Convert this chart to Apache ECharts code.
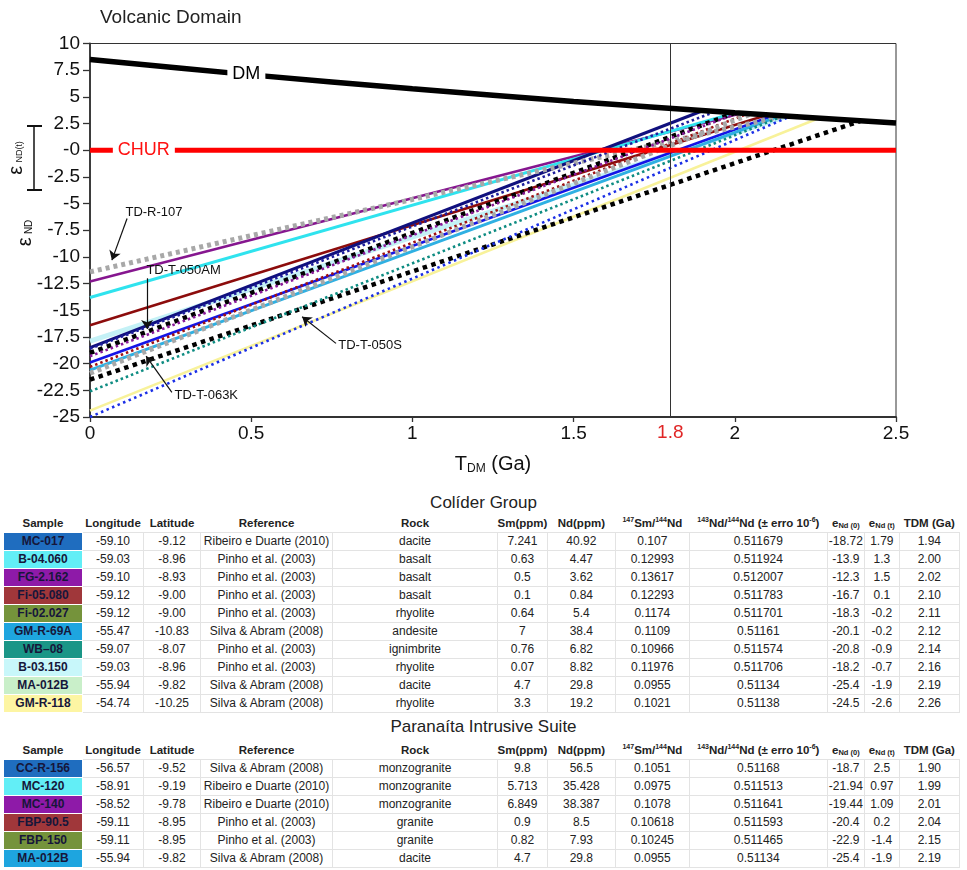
<!DOCTYPE html>
<html><head><meta charset="utf-8">
<script src="https://cdn.jsdelivr.net/npm/echarts@6/dist/echarts.min.js"></script>
<style>
html,body{margin:0;padding:0;background:#fff;width:967px;height:870px;overflow:hidden;font-family:"Liberation Sans",Arial,sans-serif;}
#chart{position:absolute;left:0;top:0;width:967px;height:480px;}
.ttl{position:absolute;left:0;width:967px;text-align:center;font-size:17px;color:#222;line-height:20px;}
table{position:absolute;left:3px;border-collapse:collapse;table-layout:fixed;font-size:12px;color:#222;}
td,th{padding:0;text-align:center;white-space:nowrap;height:17px;line-height:17px;overflow:visible;}
th{font-weight:bold;font-size:11.5px;border:none;}
td{border:1px solid #e3e3e3;}
td.s{border:1px solid #fff;font-weight:bold;color:#16163a;}
sup{font-size:7px;vertical-align:5px;line-height:0;}
sub{font-size:7.5px;vertical-align:-1px;line-height:0;}
</style></head>
<body>
<div id="chart"></div>
<div class="ttl" style="top:493px">Colíder Group</div>
<table id="t1" style="top:515px"></table>
<div class="ttl" style="top:717px">Paranaíta Intrusive Suite</div>
<table id="t2" style="top:742px"></table>
<script>
// ---------- chart data ----------
const xTicks = [0, 0.5, 1, 1.5, 2, 2.5];
const yTickMin = -25, yTickMax = 10, yTickStep = 2.5;
const dmT = [0, 0.5, 1, 1.5, 2, 2.5];
const dmE = [8.5, 7.06, 5.75, 4.56, 3.5, 2.55];
const churT = [0, 2.5];
const churE = [0, 0];
const refAge = 1.8;

const lineNames = ['B-03.150','TD-R-107','FG-2.162','B-04.060','Fi-05.080','CC-R-156','MC-017','TD-T-050AM','MC-140','GM-R-69A','FBP-90.5','WB-08','TD-T-063K','TD-T-050S','FBP-150','GM-R-118','MA-012B'];
const lineStartE = [-17.9, -11.4, -12.3, -13.8, -16.4, -18.5, -18.6, -19.0, -19.3, -19.9, -20.3, -20.6, -20.9, -21.5, -22.6, -24.4, -25.0];
const lineAges   = [2.16, 2.15, 2.02, 2.00, 2.10, 1.90, 1.94, 2.00, 2.01, 2.12, 2.04, 2.14, 2.05, 2.39, 2.15, 2.26, 2.17];
const lineEndE   = [3.18, 3.20, 3.46, 3.50, 3.30, 3.70, 3.62, 3.50, 3.48, 3.26, 3.42, 3.22, 3.40, 2.74, 3.20, 2.99, 3.15];

const annNames = ['TD-R-107', 'TD-T-050AM', 'TD-T-063K', 'TD-T-050S'];
const annTextT = [0.11, 0.175, 0.262, 0.77];
const annTextE = [-5.8, -11.3, -23.0, -18.3];
const annFromT = [0.115, 0.177, 0.254, 0.763];
const annFromE = [-6.4, -12.0, -22.7, -18.1];
const annToT = [0.068, 0.177, 0.174, 0.658];
const annToE = [-10.3, -16.75, -19.3, -15.6];

const dmLabel = [0.485, 7.1];
const churLabel = [0.167, 0];

// ---------- table data ----------
const g1Sample = ['MC-017','B-04.060','FG-2.162','Fi-05.080','Fi-02.027','GM-R-69A','WB–08','B-03.150','MA-012B','GM-R-118'];
const g1Lon = ['-59.10','-59.03','-59.10','-59.12','-59.12','-55.47','-59.07','-59.03','-55.94','-54.74'];
const g1Lat = ['-9.12','-8.96','-8.93','-9.00','-9.00','-10.83','-8.07','-8.96','-9.82','-10.25'];
const g1Ref = ['Ribeiro e Duarte (2010)','Pinho et al. (2003)','Pinho et al. (2003)','Pinho et al. (2003)','Pinho et al. (2003)','Silva & Abram (2008)','Pinho et al. (2003)','Pinho et al. (2003)','Silva & Abram (2008)','Silva & Abram (2008)'];
const g1Rock = ['dacite','basalt','basalt','basalt','rhyolite','andesite','ignimbrite','rhyolite','dacite','rhyolite'];
const g1Sm = ['7.241','0.63','0.5','0.1','0.64','7','0.76','0.07','4.7','3.3'];
const g1Nd = ['40.92','4.47','3.62','0.84','5.4','38.4','6.82','8.82','29.8','19.2'];
const g1SmNd = ['0.107','0.12993','0.13617','0.12293','0.1174','0.1109','0.10966','0.11976','0.0955','0.1021'];
const g1NdNd = ['0.511679','0.511924','0.512007','0.511783','0.511701','0.51161','0.511574','0.511706','0.51134','0.51138'];
const g1E0 = ['-18.72','-13.9','-12.3','-16.7','-18.3','-20.1','-20.8','-18.2','-25.4','-24.5'];
const g1Et = ['1.79','1.3','1.5','0.1','-0.2','-0.2','-0.9','-0.7','-1.9','-2.6'];
const g1Tdm = ['1.94','2.00','2.02','2.10','2.11','2.12','2.14','2.16','2.19','2.26'];

const g2Sample = ['CC-R-156','MC-120','MC-140','FBP-90.5','FBP-150','MA-012B'];
const g2Lon = ['-56.57','-58.91','-58.52','-59.11','-59.11','-55.94'];
const g2Lat = ['-9.52','-9.19','-9.78','-8.95','-8.95','-9.82'];
const g2Ref = ['Silva & Abram (2008)','Ribeiro e Duarte (2010)','Ribeiro e Duarte (2010)','Pinho et al. (2003)','Pinho et al. (2003)','Silva & Abram (2008)'];
const g2Rock = ['monzogranite','monzogranite','monzogranite','granite','granite','dacite'];
const g2Sm = ['9.8','5.713','6.849','0.9','0.82','4.7'];
const g2Nd = ['56.5','35.428','38.387','8.5','7.93','29.8'];
const g2SmNd = ['0.1051','0.0975','0.1078','0.10618','0.10245','0.0955'];
const g2NdNd = ['0.51168','0.511513','0.511641','0.511593','0.511465','0.51134'];
const g2E0 = ['-18.7','-21.94','-19.44','-20.4','-22.9','-25.4'];
const g2Et = ['2.5','0.97','1.09','0.2','-1.4','-1.9'];
const g2Tdm = ['1.90','1.99','2.01','2.04','2.15','2.19'];

// ---------- styles ----------
const lineColors = ['#c4f1f6','#a8a8a8','#86168f','#2fe3ee','#8c0c0c','#10107e','#1d1d9c','#000000','#8a1a9a','#1414e6','#9e1212','#2fb0e2','#a8a8a8','#000000','#0e8c82','#f8f29a','#1b2fe6'];
const lineWidths = [5, 5, 2.6, 3, 2.6, 3, 2.6, 4.5, 2.6, 2.6, 2.6, 3, 5, 4.5, 2.6, 2.6, 2.6];
const lineDash = [null, [4,4], null, null, null, null, [2.5,3], [4.5,4.5], [2.5,3], null, [2.5,3], null, [4,4], [4.5,4.5], [2.5,3], null, [2.5,3.5]];
const g1Colors = ['#1f6dbf','#62eef6','#8e1aa8','#a0373a','#75933b','#1ea5df','#1a9687','#c8f7fa','#c9efc9','#fdf5a3'];
const g2Colors = ['#1f6dbf','#62eef6','#8e1aa8','#a0373a','#75933b','#1ea5df'];
const colW = [79, 61, 57, 132, 165, 46, 68, 74, 138, 37, 35, 60];

// ---------- tables ----------
function buildTable(id, s, lon, lat, ref, rock, sm, nd, smnd, ndnd, e0, et, tdm, colors) {
  const t = document.getElementById(id);
  let h = '<colgroup>' + colW.map(w => '<col style="width:' + w + 'px">').join('') + '</colgroup>';
  h += '<tr><th>Sample</th><th>Longitude</th><th>Latitude</th><th>Reference</th><th>Rock</th><th>Sm(ppm)</th><th>Nd(ppm)</th>' +
       '<th><sup>147</sup>Sm/<sup>144</sup>Nd</th><th><sup>143</sup>Nd/<sup>144</sup>Nd (± erro 10<sup>-6</sup>)</th>' +
       '<th>e<sub>Nd (0)</sub></th><th>e<sub>Nd (t)</sub></th><th>TDM (Ga)</th></tr>';
  for (let i = 0; i < s.length; i++) {
    h += '<tr><td class="s" style="background:' + colors[i] + '">' + s[i] + '</td><td>' + lon[i] + '</td><td>' + lat[i] + '</td><td>' + ref[i] +
      '</td><td>' + rock[i] + '</td><td>' + sm[i] + '</td><td>' + nd[i] + '</td><td>' + smnd[i] + '</td><td>' + ndnd[i] +
      '</td><td>' + e0[i] + '</td><td>' + et[i] + '</td><td>' + tdm[i] + '</td></tr>';
  }
  t.innerHTML = h;
}
buildTable('t1', g1Sample, g1Lon, g1Lat, g1Ref, g1Rock, g1Sm, g1Nd, g1SmNd, g1NdNd, g1E0, g1Et, g1Tdm, g1Colors);
buildTable('t2', g2Sample, g2Lon, g2Lat, g2Ref, g2Rock, g2Sm, g2Nd, g2SmNd, g2NdNd, g2E0, g2Et, g2Tdm, g2Colors);

// ---------- chart ----------
const FF = '"Liberation Sans", Arial, sans-serif';
const chart = echarts.init(document.getElementById('chart'));
const series = [];
lineNames.forEach((n, i) => {
  series.push({
    type: 'line', name: n, silent: true, symbol: 'none', showSymbol: false,
    z: lineDash[i] ? 3 : 2,
    data: [[0, lineStartE[i]], [lineAges[i], lineEndE[i]]],
    lineStyle: { color: lineColors[i], width: lineWidths[i], type: lineDash[i] || 'solid', cap: 'butt' }
  });
});
series.push({
  type: 'line', name: 'DM', silent: true, symbol: 'none', smooth: 0.3, z: 5,
  data: dmT.map((t, i) => [t, dmE[i]]),
  lineStyle: { color: '#000', width: 5.5 }
});
series.push({
  type: 'line', name: 'CHUR', silent: true, symbol: 'none', z: 5,
  data: churT.map((t, i) => [t, churE[i]]),
  lineStyle: { color: '#ff0000', width: 5 },
  markLine: {
    silent: true, symbol: 'none', animation: false,
    lineStyle: { color: '#333', width: 1, type: 'solid' },
    label: { show: true, position: 'start', formatter: String(refAge), color: '#e02525', fontSize: 19, fontFamily: FF, distance: 6 },
    data: [{ xAxis: refAge }]
  }
});
series.push({
  type: 'scatter', silent: true, symbolSize: 0, z: 7,
  itemStyle: { color: '#fff', opacity: 1 },
  data: [
    { value: dmLabel, name: 'DM', label: { color: '#000' } },
    { value: churLabel, name: 'CHUR', label: { color: '#ff1010' } }
  ],
  label: { show: true, position: 'inside', formatter: p => p.name, fontSize: 18, fontFamily: FF, backgroundColor: '#fff', padding: [1, 5],
    textBorderWidth: 0, textBorderColor: 'transparent', textShadowBlur: 0, opacity: 1 }
});
series.push({
  type: 'scatter', silent: true, symbolSize: 0, z: 8,
  itemStyle: { opacity: 1 },
  data: annNames.map((n, i) => ({ value: [annTextT[i], annTextE[i]], name: n })),
  label: { show: true, position: 'right', distance: 0, formatter: p => p.name, fontSize: 13, color: '#111', fontFamily: FF, opacity: 1 },
  markLine: {
    silent: true, animation: false, symbol: ['none', 'arrow'], symbolSize: 9,
    lineStyle: { color: '#111', width: 1.2, type: 'solid', opacity: 1 },
    label: { show: false },
    data: annNames.map((n, i) => [{ coord: [annFromT[i], annFromE[i]] }, { coord: [annToT[i], annToE[i]] }])
  }
});

chart.setOption({
  animation: false,
  backgroundColor: '#fff',
  title: { text: 'Volcanic Domain', left: 95, top: 3, textStyle: { fontSize: 19, fontWeight: 'normal', color: '#222', fontFamily: FF } },
  grid: { left: 90, right: 71, top: 43.5, bottom: 59, show: true, borderColor: '#333', borderWidth: 1, backgroundColor: 'transparent' },
  xAxis: {
    type: 'value', min: xTicks[0], max: xTicks[xTicks.length - 1], interval: 0.5,
    axisLine: { show: true, onZero: false, lineStyle: { color: '#333', width: 1.8 } },
    axisTick: { show: true, length: 5, lineStyle: { color: '#333', width: 1.3 } },
    axisLabel: { fontSize: 19, color: '#111', margin: 7, fontFamily: FF },
    splitLine: { show: false },
    name: '{a|T}{b|DM}{a| (Ga)}', nameLocation: 'middle', nameGap: 36,
    nameTextStyle: { rich: { a: { fontSize: 20, color: '#111', fontFamily: FF }, b: { fontSize: 12, color: '#111', fontFamily: FF, padding: [10, 0, 0, 0] } } }
  },
  yAxis: {
    type: 'value', min: yTickMin, max: yTickMax, interval: yTickStep,
    axisLine: { show: true, onZero: false, lineStyle: { color: '#333', width: 1.8 } },
    axisTick: { show: true, length: 7, lineStyle: { color: '#333', width: 1.3 } },
    axisLabel: { fontSize: 19, color: '#111', margin: 10, fontFamily: FF, formatter: v => (v === 0 ? '-0' : String(v)) },
    splitLine: { show: false }
  },
  graphic: [
    { type: 'line', shape: { x1: 34, y1: 126, x2: 34, y2: 190 }, style: { stroke: '#111', lineWidth: 1.5 } },
    { type: 'line', shape: { x1: 27, y1: 126, x2: 42, y2: 126 }, style: { stroke: '#111', lineWidth: 2 } },
    { type: 'line', shape: { x1: 27, y1: 190, x2: 42, y2: 190 }, style: { stroke: '#111', lineWidth: 2 } },
    { type: 'text', x: 16, y: 158, rotation: Math.PI / 2,
      style: { text: '{e|ε} {s|ND(t)}', align: 'center', verticalAlign: 'middle',
        rich: { e: { fontSize: 20, fill: '#111', fontFamily: FF }, s: { fontSize: 9, fill: '#111', fontFamily: FF, padding: [8, 0, 0, 0] } } } },
    { type: 'text', x: 25, y: 233, rotation: Math.PI / 2,
      style: { text: '{e|ε} {s|ND}', align: 'center', verticalAlign: 'middle',
        rich: { e: { fontSize: 20, fill: '#111', fontFamily: FF }, s: { fontSize: 10, fill: '#111', fontFamily: FF, padding: [8, 0, 0, 0] } } } }
  ],
  series: series
});
</script>
</body></html>
